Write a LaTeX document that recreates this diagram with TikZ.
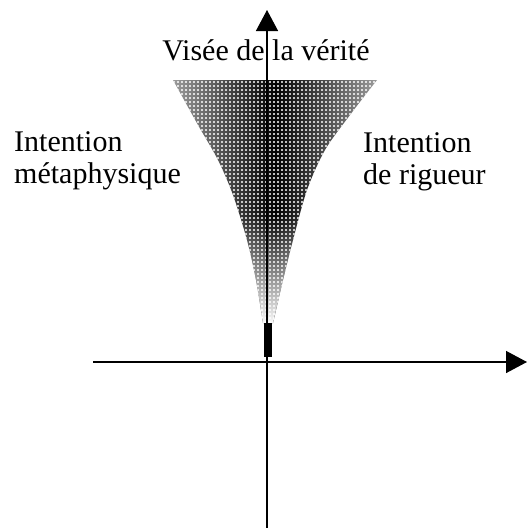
\documentclass[tikz,border=0pt]{standalone}
\usepackage{fontspec}
\setmainfont{Liberation Serif}
\usetikzlibrary{
	arrows.meta,
	positioning,
	patterns,
	fadings
}
\pgfdeclarepatternformonly{gros points}{\pgfqpoint{-1pt}{-1pt}}
  {\pgfqpoint{5pt}{5pt}}{\pgfqpoint{4pt}{4pt}}
  {\pgfpathcircle{\pgfqpoint{2pt}{2pt}}{1.1pt}\pgfusepath{fill}}

\begin{document}
\begin{tikzpicture}[x=1pt, y=-1pt,
  axe/.style={line width=1.4pt, -{Triangle[length=21pt, width=22pt]}},
  etiquette/.style={font=\fontsize{30}{32}\selectfont, inner sep=0pt,
    align=left},
  trame/.style={pattern=gros points, pattern color=white}
]
\useasboundingbox (0,0) rectangle (528,528);
\coordinate (origine) at (267,362);
\coordinate (bas) at (267,528);
\coordinate (haut) at (267,10);
\coordinate (gauche) at (93,362);
\coordinate (droite) at (527,362);

% entonnoir
\begin{scope}
\clip plot[smooth] coordinates {(173,80) (198,125) (218,160) (233,195)
    (247,240) (256,280) (263,323)}
  -- plot[smooth] coordinates {(273,323) (283,280) (293,240) (307,190)
    (325,150) (350,115) (377,80)} -- cycle;
\shade[left color=gray!75, right color=gray!75, middle color=black]
  (170,80) rectangle (380,325);
\fill[white, path fading=north] (170,215) rectangle (380,325);
\fill[trame] (170,80) rectangle (380,325);
\end{scope}
\fill (264,323) rectangle (272,357);

% textes
\node[etiquette, anchor=base] (visee) at (266,60) {Visée de la vérité};
\node[etiquette, anchor=base west] (metaphysique) at (14,183)
  {Intention\\métaphysique};
\node[etiquette, anchor=base west] (rigueur) at (363,184)
  {Intention\\de rigueur};

% axes
\draw[axe] (bas) -- (haut);
\draw[axe] (gauche) -- (droite);
\end{tikzpicture}
\end{document}
